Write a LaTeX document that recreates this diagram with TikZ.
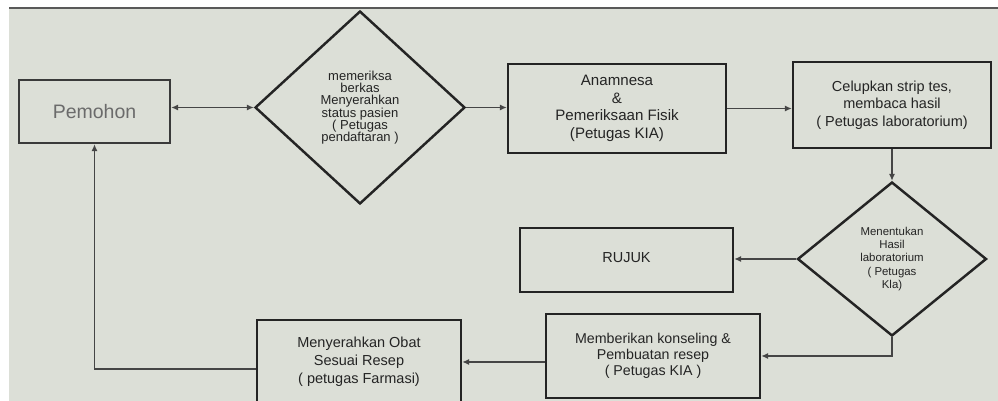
\documentclass[tikz,border=0pt]{standalone}
\usepackage{fontspec}
\setmainfont{Liberation Sans}
\usetikzlibrary{shapes.geometric, arrows.meta}
\definecolor{screen}{RGB}{220,223,215}
\definecolor{ink}{RGB}{36,36,36}
\tikzset{
    box/.style={rectangle, draw=ink, line width=1.4pt, align=center,
    	text=ink, inner sep=0pt},
    decision/.style={diamond, draw=ink, line width=1.4pt, align=center,
    	text=ink, inner sep=0pt}
}
\tikzset{
    flow/.style={draw=ink!85, line width=0.8pt,
    	-{Latex[length=4pt, width=3.6pt]}}
}

\begin{document}
\begin{tikzpicture}[x=0.02cm, y=-0.02cm]
	\useasboundingbox (0,0) rectangle (998,401);
	\fill[screen] (9,8) rectangle (998,401);
	\draw[gray!70!black, line width=1.2pt] (9,8) -- (998,8);

	\node (1) [box, minimum width=3.02cm, minimum height=1.26cm,
		text=black!58, draw=ink!90,
		font=\fontsize{11.1}{13}\selectfont] at (94.5,111.5) {Pemohon};
	\node (2) [decision, minimum width=4.2cm, minimum height=3.86cm,
		font=\fontsize{7.4}{7}\selectfont] at (360,107.5)
		{memeriksa\\berkas\\Menyerahkan\\status pasien\\( Petugas\\pendaftaran )};
	\node (3) [box, minimum width=4.36cm, minimum height=1.78cm,
		font=\fontsize{8.6}{10.1}\selectfont] at (617,108.5)
		{Anamnesa\\\&\\Pemeriksaan Fisik\\(Petugas KIA)};
	\node (4) [box, minimum width=3.96cm, minimum height=1.72cm,
		font=\fontsize{8.25}{10}\selectfont] at (892,105)
		{Celupkan strip tes,\\membaca hasil\\( Petugas laboratorium)};
	\node (5) [decision, minimum width=3.78cm, minimum height=3.08cm,
		font=\fontsize{6.5}{7.6}\selectfont] at (892,259)
		{Menentukan\\Hasil\\laboratorium\\( Petugas\\Kla)};
	\node (6) [box, minimum width=4.26cm, minimum height=1.28cm,
		font=\fontsize{8.25}{10}\selectfont] at (626.5,260)
		{\raisebox{0.08cm}{RUJUK}};
	\node (7) [box, minimum width=4.28cm, minimum height=1.68cm,
		font=\fontsize{8.1}{9.2}\selectfont] at (653,356)
		{Memberikan konseling \&\\Pembuatan resep\\( Petugas KIA )};
	\node (8) [box, minimum width=4.08cm, minimum height=1.68cm,
		font=\fontsize{8.25}{10.2}\selectfont] at (359,362)
		{Menyerahkan Obat\\Sesuai Resep\\( petugas Farmasi)};

	\draw[flow, {Latex[length=4pt, width=3.6pt]}-{Latex[length=4pt, width=3.6pt]}]
		(2.west -| 1.east) -- (2.west);
	\draw[flow] (2.east) -- (2.east -| 3.west);
	\draw[flow] (3.east) -- (3.east -| 4.west);
	\draw[flow] (4.south) -- (5.north);
	\draw[flow] (5.west) -- (5.west -| 6.east);
	\draw[flow] (5.south) |- (7.east);
	\draw[flow] (8.east -| 7.west) -- (8.east);
	\draw[flow] ([yshift=-0.14cm]8.west) -| (1.south);
\end{tikzpicture}
\end{document}
